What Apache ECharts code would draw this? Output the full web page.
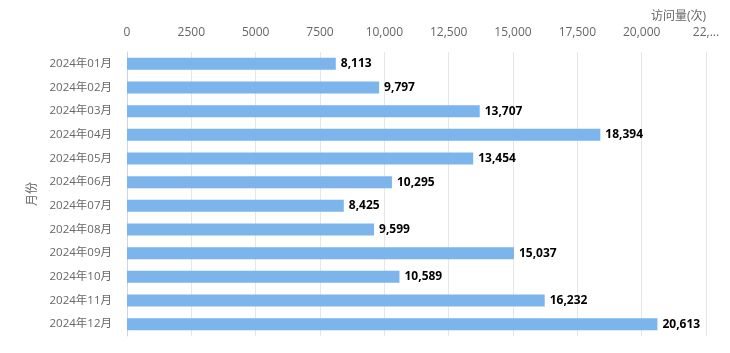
<!DOCTYPE html>
<html>
<head>
<meta charset="utf-8">
<script src="https://cdn.jsdelivr.net/npm/echarts@6/dist/echarts.min.js"></script>
<style>
  html, body { margin: 0; padding: 0; background: #fff; }
  #chart { width: 730px; height: 353px; }
</style>
</head>
<body>
<div id="chart"></div>
<script>
const months = ['2024年01月', '2024年02月', '2024年03月', '2024年04月', '2024年05月', '2024年06月',
  '2024年07月', '2024年08月', '2024年09月', '2024年10月', '2024年11月', '2024年12月']
const visits = [8113, 9797, 13707, 18394, 13454, 10295, 8425, 9599, 15037, 10589, 16232, 20613]

const fontFamily = '"Open Sans", "Noto Sans CJK SC", sans-serif'

function withCommas(v) {
  return v.toString().replace(/\B(?=(\d{3})+(?!\d))/g, ',')
}

const chart = echarts.init(document.getElementById('chart'))
chart.setOption({
  animation: false,
  textStyle: { fontFamily: fontFamily },
  grid: {
    left: 127,
    right: 24,
    top: 52,
    bottom: 17
  },
  xAxis: {
    type: 'value',
    position: 'top',
    min: 0,
    max: 22500,
    interval: 2500,
    name: '访问量(次)',
    nameLocation: 'end',
    nameGap: 0,
    nameTextStyle: {
      color: '#666',
      fontSize: 12,
      align: 'right',
      verticalAlign: 'bottom',
      padding: [0, 0, 29, 0]
    },
    axisLine: { show: false },
    axisTick: { show: false },
    axisLabel: {
      color: '#666',
      fontSize: 12,
      margin: 13,
      formatter: function (v) {
        if (v === 22500) return '22,...'
        return v >= 10000 ? withCommas(v) : String(v)
      }
    },
    splitLine: { lineStyle: { color: '#e6e6e6' } }
  },
  yAxis: {
    type: 'category',
    inverse: true,
    data: months,
    name: '月份',
    nameLocation: 'middle',
    nameGap: 88,
    nameTextStyle: { color: '#666', fontSize: 12 },
    axisLine: { lineStyle: { color: '#ccd6eb' } },
    axisTick: { show: false },
    axisLabel: { color: '#666', fontSize: 11.5, margin: 15 }
  },
  series: [{
    type: 'bar',
    data: visits,
    barWidth: 12,
    itemStyle: { color: '#7cb5ec' },
    label: {
      show: true,
      position: 'right',
      distance: 5,
      color: '#000',
      fontSize: 12,
      fontWeight: 'bold',
      formatter: function (p) { return withCommas(p.value) }
    }
  }]
})
</script>
</body>
</html>
